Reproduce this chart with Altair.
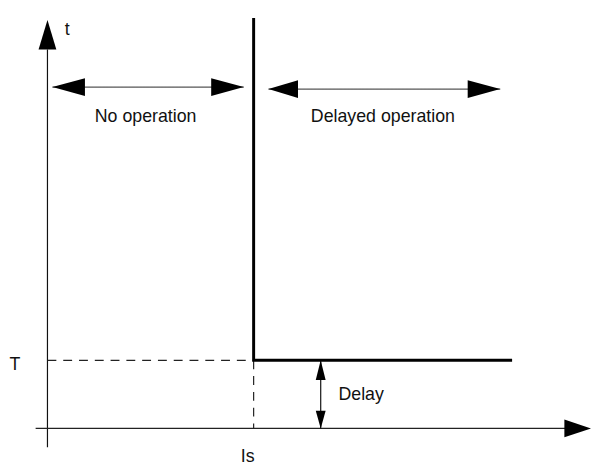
import altair as alt
import pandas as pd

# ---- straight segments of the diagram (drawing units = page pixels) ----
seg_name = ["t axis", "I axis", "T dashed", "Is dashed", "no-op span", "delayed span", "delay span"]
seg_x1 = [48, 36, 48, 257, 53, 272, 325]
seg_y1 = [47, 431, 362, 362, 85, 87, 362]
seg_x2 = [48, 575, 257, 257, 247, 507, 325]
seg_y2 = [450, 431, 362, 431, 85, 87, 431]
seg_style = ["solid", "solid", "dashed", "dashed", "solid", "solid", "solid"]
seg_color = ["#111111", "#222222", "#222222", "#222222", "#555555", "#555555", "#111111"]

# ---- definite-time characteristic (thick line) ----
char_x = [257, 257, 519]
char_y = [15, 362, 362]
char_order = [0, 1, 2]

# ---- arrow heads ----
head_x = [48, 599, 53, 247, 272, 507, 325, 325]
head_y = [17, 431, 85, 85, 87, 87, 362, 431]
head_dir = ["up", "right", "left", "right", "left", "right", "up", "down"]
head_len = [30, 27, 33, 33, 30, 33, 20, 18]
head_half = [9, 9, 9, 9, 9, 9, 5, 5]

# ---- labels ----
lab_text = ["t", "T", "Is", "No operation", "Delayed operation", "Delay"]
lab_x = [68, 15, 251, 147.5, 388, 366]
lab_y = [32, 372, 465, 120, 120, 402]

XS = alt.Scale(domain=[8, 600], nice=False, zero=False)
YS = alt.Scale(domain=[8, 467], nice=False, zero=False, reverse=True)


def head_path(d, L, w):
    h = 2.0 * w / L
    if d == "right":
        return f"M0,0L-2,{-h:.4f}L-2,{h:.4f}Z"
    if d == "left":
        return f"M0,0L2,{-h:.4f}L2,{h:.4f}Z"
    if d == "up":
        return f"M0,0L{-h:.4f},2L{h:.4f},2Z"
    return f"M0,0L{-h:.4f},-2L{h:.4f},-2Z"


segs = pd.DataFrame({"name": seg_name, "x": seg_x1, "y": seg_y1, "x2": seg_x2,
                     "y2": seg_y2, "style": seg_style, "color": seg_color})
char = pd.DataFrame({"x": char_x, "y": char_y, "o": char_order})
heads = pd.DataFrame({
    "x": head_x, "y": head_y,
    "path": [head_path(d, L, w) for d, L, w in zip(head_dir, head_len, head_half)],
    "size": [L * L for L in head_len],
})
labs = pd.DataFrame({"text": lab_text, "x": lab_x, "y": lab_y})

rules = alt.Chart(segs).mark_rule(strokeWidth=1.2).encode(
    x=alt.X("x:Q", scale=XS, axis=None),
    y=alt.Y("y:Q", scale=YS, axis=None),
    x2="x2:Q",
    y2="y2:Q",
    color=alt.Color("color:N", scale=None),
    strokeDash=alt.StrokeDash("style:N", scale=alt.Scale(domain=["solid", "dashed"], range=[[1, 0], [9, 7]]), legend=None),
)

curve = alt.Chart(char).mark_line(color="black", strokeWidth=3, strokeJoin="miter").encode(
    x=alt.X("x:Q", scale=XS, axis=None),
    y=alt.Y("y:Q", scale=YS, axis=None),
    order="o:Q",
)

arrowheads = alt.Chart(heads).mark_point(filled=True, color="black", opacity=1, strokeWidth=0).encode(
    x=alt.X("x:Q", scale=XS, axis=None),
    y=alt.Y("y:Q", scale=YS, axis=None),
    shape=alt.Shape("path:N", scale=None),
    size=alt.Size("size:Q", scale=None),
)

texts = alt.Chart(labs).mark_text(font="Liberation Sans", fontSize=18, color="#111111",
                                  align="center", baseline="alphabetic").encode(
    x=alt.X("x:Q", scale=XS, axis=None),
    y=alt.Y("y:Q", scale=YS, axis=None),
    text="text:N",
)

chart = alt.layer(rules, curve, arrowheads, texts).properties(
    width=592, height=459, background="white",
    autosize=alt.AutoSizeParams(type="none"), padding=0,
).configure_view(stroke=None)

chart.save("out.html", embed_options={"renderer": "svg", "actions": False})
